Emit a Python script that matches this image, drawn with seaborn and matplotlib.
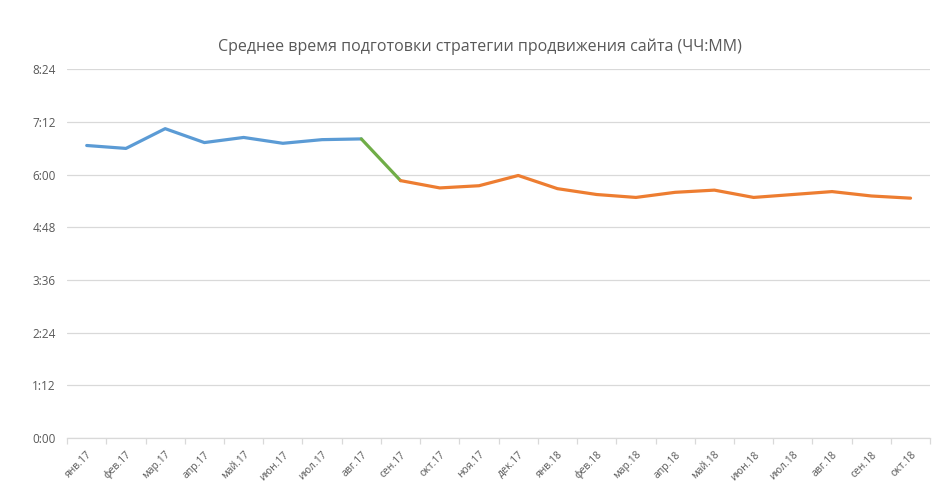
import numpy as np
import pandas as pd
import seaborn as sns
import matplotlib.pyplot as plt
from matplotlib.ticker import FuncFormatter, MultipleLocator

sns.set_theme(style="white")
plt.rcParams['font.family'] = ['Open Sans', 'DejaVu Sans']

# месяцы и среднее время в минутах
months = ['янв.17', 'фев.17', 'мар.17', 'апр.17', 'май.17', 'июн.17', 'июл.17', 'авг.17',
          'сен.17', 'окт.17', 'ноя.17', 'дек.17', 'янв.18', 'фев.18', 'мар.18', 'апр.18',
          'май.18', 'июн.18', 'июл.18', 'авг.18', 'сен.18', 'окт.18']
minutes = [400, 396, 423, 404, 411, 403, 408, 409,
           352, 342, 345, 359, 341, 333, 329, 336,
           339, 329, 333, 337, 331, 328]
# участки линии: до авг.17, переход, после сен.17
seg_blue = (0, 8)
seg_green = (7, 9)
seg_orange = (8, 22)

df = pd.DataFrame({'x': np.arange(len(months)), 'month': months, 'minutes': minutes})

fig = plt.figure(figsize=(9.32, 4.82), dpi=100)
ax = fig.add_axes([0.072, 0.091, 0.926, 0.765])

for (a, b), col in [(seg_blue, '#5B9BD5'), (seg_green, '#70AD47'), (seg_orange, '#ED7D31')]:
    sns.lineplot(data=df.iloc[a:b], x='x', y='minutes', color=col, linewidth=2.3, ax=ax)

ax.set_xlim(-0.5, len(months) - 0.5)
ax.set_ylim(0, 504)
ax.yaxis.set_major_locator(MultipleLocator(72))
ax.yaxis.set_major_formatter(FuncFormatter(lambda v, p: f'{int(v) // 60}:{int(v) % 60:02d}'))
ax.grid(axis='y', color='#d9d9d9', linewidth=0.9)
ax.set_axisbelow(True)

ax.set_xticks(df['x'])
ax.set_xticklabels(months, rotation=45, ha='right', rotation_mode='anchor')
ax.set_xticks(np.arange(-0.5, len(months)), minor=True)
ax.tick_params(axis='x', which='major', length=0, pad=8, labelsize=7.5, labelcolor='#595959')
ax.tick_params(axis='x', which='minor', length=4, color='#d9d9d9', width=0.9, bottom=True)
ax.tick_params(axis='y', length=0, pad=8, labelsize=8.5, labelcolor='#595959')
ax.set_xlabel('')
ax.set_ylabel('')

for s in ['top', 'right', 'left']:
    ax.spines[s].set_visible(False)
ax.spines['bottom'].set_color('#d9d9d9')
ax.spines['bottom'].set_linewidth(0.9)

fig.text(0.515, 0.903, 'Среднее время подготовки стратегии продвижения сайта (ЧЧ:ММ)',
         ha='center', va='center', fontsize=11.5, color='#595959')

plt.savefig('out.png', dpi=100)
